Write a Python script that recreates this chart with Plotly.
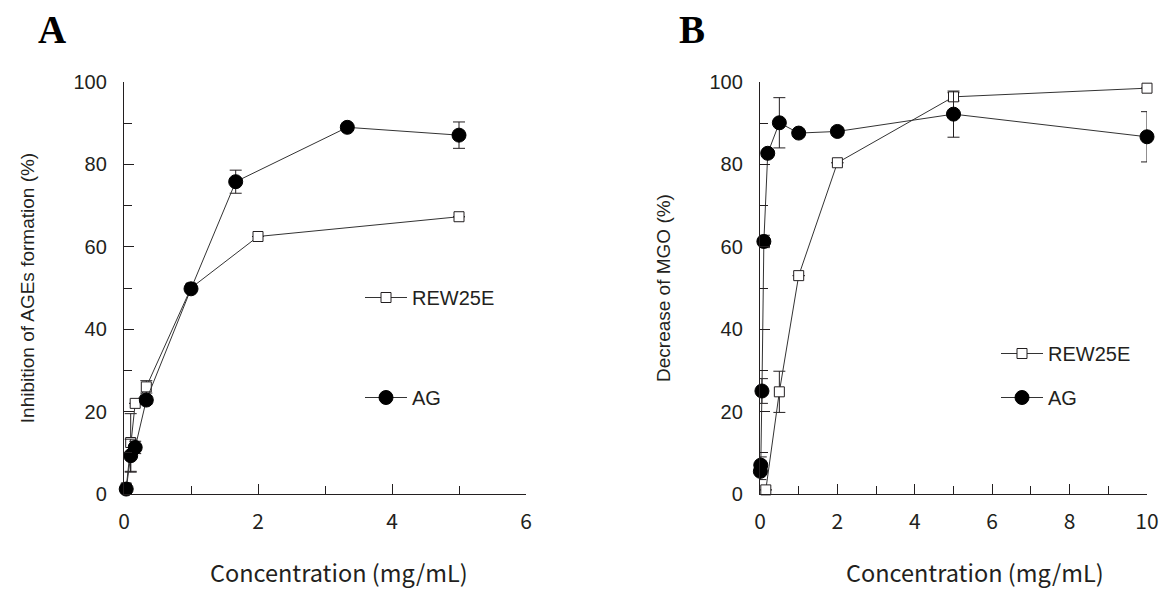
import plotly.graph_objects as go

# ---------------- data ----------------
A_x_rew = [0.033, 0.1, 0.167, 0.333, 1, 2, 5]
A_y_rew = [1.5, 12.5, 22.0, 26.0, 50.0, 62.5, 67.3]
A_e_rew = [0, 7, 0, 1.5, 0, 0, 0]

A_x_ag = [0.033, 0.1, 0.167, 0.333, 1, 1.667, 3.333, 5]
A_y_ag = [1.2, 9.3, 11.3, 22.8, 49.8, 75.8, 89.0, 87.1]
A_e_ag = [0, 4, 1.5, 1, 0, 2.8, 0, 3.2]

B_x_rew = [0.15, 0.5, 1, 2, 5, 10]
B_y_rew = [1.0, 24.8, 53.0, 80.4, 96.4, 98.5]
B_e_rew = [0, 5, 0, 0, 1, 0]

B_x_ag = [0.01, 0.02, 0.05, 0.1, 0.2, 0.5, 1, 2, 5, 10]
B_y_ag = [5.5, 7.0, 25.0, 61.3, 82.7, 90.1, 87.6, 88.0, 92.2, 86.7]
B_e_ag = [2, 2, 3, 1.5, 0, 6.1, 0, 1, 5.6, 6.1]

series_names = ["REW25E", "AG"]
x_title = "Concentration (mg/mL)"
y_title_A = "Inhibition of AGEs formation (%)"
y_title_B = "Decrease of MGO (%)"
panel_labels = ["A", "B"]

# ---------------- style ----------------
W, H = 1159, 592
INK = "#231f20"
LINE = "#333333"
TICKFONT = dict(family="Liberation Sans, Arial, sans-serif", size=20, color=INK)
LEGFONT = dict(family="Liberation Sans, Arial, sans-serif", size=20, color=INK)
XTICKFONT = dict(family="Noto Sans CJK JP, sans-serif", size=21, color=INK)
XTITLEFONT = dict(family="Noto Sans CJK JP, sans-serif", size=23.5, color=INK)
YTITLEFONT = dict(family="Liberation Sans, Arial, sans-serif", size=19, color=INK)

fig = go.Figure()


def add_pair(xr, yr, er, xa, ya, ea, xaxis, yaxis, legend):
    fig.add_trace(go.Scatter(
        x=xr, y=yr, mode="lines+markers", name=series_names[0],
        xaxis=xaxis, yaxis=yaxis, legend=legend, legendgroup=legend + "r",
        showlegend=True, cliponaxis=False,
        line=dict(color=LINE, width=1),
        marker=dict(symbol="square", size=10, color="white",
                    line=dict(color=INK, width=1)),
        error_y=dict(type="data", array=er, visible=True, color=INK,
                     thickness=1, width=6),
    ))
    fig.add_trace(go.Scatter(
        x=xa, y=ya, mode="lines+markers", name=series_names[1],
        xaxis=xaxis, yaxis=yaxis, legend=legend, legendgroup=legend + "a",
        showlegend=True, cliponaxis=False,
        line=dict(color=LINE, width=1),
        marker=dict(symbol="circle", size=14, color="black",
                    line=dict(color="black", width=1)),
        error_y=dict(type="data", array=ea, visible=True, color=INK,
                     thickness=1, width=6),
    ))


add_pair(A_x_rew, A_y_rew, A_e_rew, A_x_ag, A_y_ag, A_e_ag, "x", "y", "legend")
add_pair(B_x_rew, B_y_rew, B_e_rew, B_x_ag, B_y_ag, B_e_ag, "x2", "y2", "legend2")

y0 = (H - 494) / H
y1 = (H - 82) / H


def xaxis_cfg(domain, rng, anchor):
    return dict(
        domain=domain, range=rng, anchor=anchor,
        showgrid=False, zeroline=False, showline=True, linecolor=INK, linewidth=1.3,
        ticks="inside", ticklen=10, tickwidth=1.2, tickcolor=INK,
        tick0=0, dtick=2, tickfont=XTICKFONT, ticklabelstandoff=9,
        minor=dict(dtick=1, ticks="inside", ticklen=8, tickwidth=1.2, tickcolor=INK),
        automargin=False,
    )


def yaxis_cfg(anchor, title):
    return dict(
        domain=[y0, y1], range=[0, 100], anchor=anchor,
        showgrid=False, zeroline=False, showline=True, linecolor=INK, linewidth=1.3,
        ticks="inside", ticklen=10, tickwidth=1.2, tickcolor=INK,
        tick0=0, dtick=20, tickfont=TICKFONT, ticklabelstandoff=12,
        minor=dict(dtick=10, ticks="inside", ticklen=8, tickwidth=1.2, tickcolor=INK),
        title=dict(text=title, font=YTITLEFONT, standoff=33),
        automargin=False,
    )


def label(text, x, y, font, yanchor="middle"):
    return dict(text=text, x=x / W, y=1 - y / H, xref="paper", yref="paper",
                showarrow=False, xanchor="center", yanchor=yanchor, font=font)


LETTERFONT = dict(family="Liberation Serif, Times New Roman, serif", size=39, color="black")

fig.update_layout(
    width=W, height=H,
    margin=dict(l=0, r=0, t=0, b=0),
    paper_bgcolor="white", plot_bgcolor="white",
    xaxis=xaxis_cfg([124 / W, 526 / W], [0, 6], "y"),
    yaxis=yaxis_cfg("x", y_title_A),
    xaxis2=xaxis_cfg([760 / W, 1147 / W], [0, 10], "y2"),
    yaxis2=yaxis_cfg("x2", y_title_B),
    legend=dict(x=360 / W, y=1 - 278 / H, xanchor="left", yanchor="top",
                bgcolor="rgba(0,0,0,0)", font=LEGFONT, tracegroupgap=71,
                itemwidth=42, traceorder="grouped"),
    legend2=dict(x=996 / W, y=1 - 334 / H, xanchor="left", yanchor="top",
                 bgcolor="rgba(0,0,0,0)", font=LEGFONT, tracegroupgap=15,
                 itemwidth=42, traceorder="grouped"),
    annotations=[
        label("<b>" + panel_labels[0] + "</b>", 52, 30, LETTERFONT),
        label("<b>" + panel_labels[1] + "</b>", 692, 30, LETTERFONT),
        label(x_title, 339, 591, XTITLEFONT, yanchor="bottom"),
        label(x_title, 975, 591, XTITLEFONT, yanchor="bottom"),
    ],
)

fig.write_html("out.html", config={"displayModeBar": False})

# remove the browser's default body margin so the figure sits at the page origin
with open("out.html", "r", encoding="utf-8") as f:
    html = f.read()
html = html.replace("<body>", '<body style="margin:0;padding:0;overflow:hidden;">', 1)
with open("out.html", "w", encoding="utf-8") as f:
    f.write(html)
